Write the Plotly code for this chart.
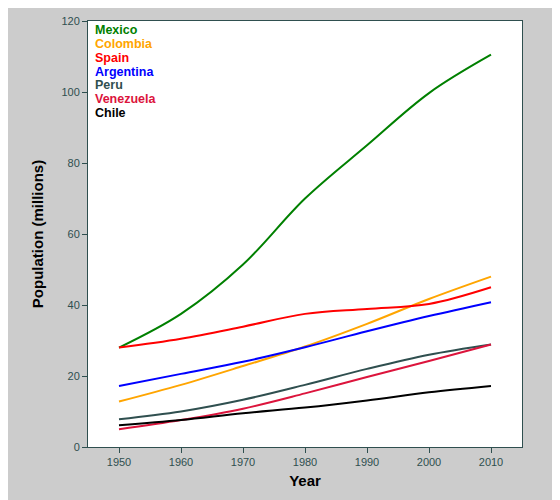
import plotly.graph_objects as go

years = [1950, 1960, 1970, 1980, 1990, 2000, 2010]

mexico = [28.0, 37.5, 51.4, 70.0, 85.0, 99.7, 110.5]
colombia = [12.8, 17.5, 22.8, 28.3, 34.7, 41.7, 48.0]
spain = [28.0, 30.5, 33.9, 37.5, 38.9, 40.3, 45.0]
argentina = [17.2, 20.6, 24.0, 28.1, 32.6, 36.9, 40.8]
peru = [7.8, 10.0, 13.3, 17.5, 22.0, 26.0, 28.9]
venezuela = [5.0, 7.6, 10.8, 15.1, 19.7, 24.2, 28.9]
chile = [6.1, 7.6, 9.5, 11.1, 13.1, 15.4, 17.2]

names = ["Mexico", "Colombia", "Spain", "Argentina", "Peru", "Venezuela", "Chile"]
series = [mexico, colombia, spain, argentina, peru, venezuela, chile]
colors = ["green", "orange", "red", "blue", "darkslategray", "crimson", "black"]

fig = go.Figure()
for name, vals, col in zip(names, series, colors):
    fig.add_trace(go.Scatter(x=years, y=vals, name=name, mode="lines",
                             line=dict(color=col, width=2, shape="spline", smoothing=1.0)))

# colored text legend in the top-left corner
for i, (name, col) in enumerate(zip(names, colors)):
    fig.add_annotation(text="<b>" + name + "</b>", xref="paper", yref="paper",
                       x=0.012, y=1.0 - i * 0.0325, xanchor="left", yanchor="top",
                       showarrow=False, font=dict(color=col, size=12.5))

axis_style = dict(showline=True, linecolor="#2f4f4f", linewidth=1, mirror=True,
                  ticks="outside", tickcolor="#2f4f4f", ticklen=5, showgrid=False,
                  zeroline=False, tickfont=dict(color="#2f4f4f", size=11))

fig.update_layout(
    width=560, height=500,
    margin=dict(l=80, r=46, t=7, b=61),
    paper_bgcolor="#cccccc", plot_bgcolor="white",
    font=dict(family="Liberation Sans, Arial, sans-serif"),
    showlegend=False,
    xaxis=dict(range=[1945, 2015], tickvals=years,
               title=dict(text="<b>Year</b>", font=dict(size=15, color="black"), standoff=8),
               **axis_style),
    yaxis=dict(range=[0, 120], dtick=20,
               title=dict(text="<b>Population (millions)</b>", font=dict(size=15, color="black"), standoff=14),
               **axis_style),
)

fig.write_html("out.html")
